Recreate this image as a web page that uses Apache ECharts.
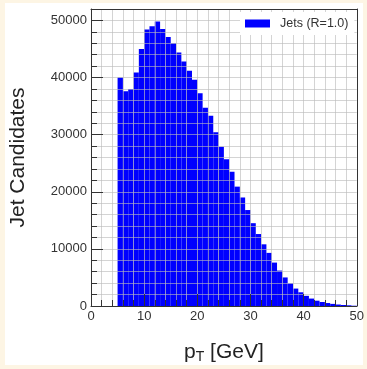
<!DOCTYPE html>
<html>
<head>
<meta charset="utf-8">
<script src="https://cdn.jsdelivr.net/npm/echarts@6/dist/echarts.min.js"></script>
<style>
html,body{margin:0;padding:0;background:#fdf5e4;}
#c{width:367px;height:369px;}
</style>
</head>
<body>
<div id="c"></div>
<script>
// Histogram bins (pT lower edges, GeV) and counts
const binLow = [5,6,7,8,9,10,11,12,13,14,15,16,17,18,19,20,21,22,23,24,25,26,27,28,29,30,31,32,33,34,35,36,37,38,39,40,41,42,43,44,45,46,47,48,49];
const binWidth = 1;
const counts = [40000,37600,38000,40900,45000,48400,49000,49800,48500,47100,46000,44400,42800,41200,39600,37250,34700,33300,30400,27900,25700,23500,20900,19000,16800,14500,12600,10800,9300,7600,6200,5000,3970,3050,2400,1780,1300,930,700,520,370,260,180,120,50];
const xTickLabels = [0, 10, 20, 30, 40, 50];
const yTickLabels = [0, 10000, 20000, 30000, 40000, 50000];
const seriesName = 'Jets (R=1.0)';
const yTitle = 'Jet Candidates';

const data = binLow.map((lo, i) => [lo, lo + binWidth, counts[i]]);

const chart = echarts.init(document.getElementById('c'), null, {renderer: 'canvas'});
const gridLine = {show: true, lineStyle: {color: 'rgba(185,185,185,0.62)', width: 1}};
const fontFam = '"Liberation Sans", Arial, sans-serif';
const AX = '#333';

const X = {min: 0, max: 50, major: 10, minor: 2};
const Y = {min: 0, max: 52000, major: 10000, minor: 2000};

// tick-only axes, shifted inward so their outward ticks sit inside the frame
function tickAxis(r, pos, interval, len) {
  return {
    type: 'value', min: r.min, max: r.max, interval: interval, position: pos, offset: -len, z: 6,
    axisLine: {show: false},
    axisTick: {show: true, length: len, lineStyle: {color: AX}},
    axisLabel: {show: false}, splitLine: {show: false}
  };
}
function borderAxis(r, pos) {
  return {
    type: 'value', min: r.min, max: r.max, interval: r.major, position: pos, z: 6,
    axisLine: {show: true, onZero: false, lineStyle: {color: AX}},
    axisTick: {show: false}, axisLabel: {show: false}, splitLine: {show: false}
  };
}

chart.setOption({
  backgroundColor: '#fdf5e4',
  animation: false,
  graphic: [{type: 'rect', shape: {x: 5, y: 3, width: 358, height: 362}, style: {fill: '#ffffff'}, z: -10}],
  grid: {left: 90.7, right: 6.8, top: 9, bottom: 63, containLabel: false},
  legend: {
    data: [seriesName], left: 240, top: 12, padding: [5, 6, 5, 5], z: 20,
    backgroundColor: '#ffffff', itemWidth: 25, itemHeight: 8, icon: 'rect',
    textStyle: {fontFamily: fontFam, fontSize: 12.5, color: '#333', padding: [0, 0, 0, 5]}
  },
  xAxis: [{
    type: 'value', min: X.min, max: X.max, interval: X.minor, z: 5, position: 'bottom',
    axisLine: {show: true, onZero: false, lineStyle: {color: AX}},
    axisTick: {show: false},
    splitLine: gridLine,
    axisLabel: {fontFamily: fontFam, fontSize: 13, color: '#333', margin: 4,
      formatter: v => (xTickLabels.indexOf(v) >= 0 ? String(v) : '')},
    name: '{p|p}{s|T}{n| [GeV]}', nameLocation: 'middle', nameGap: 34,
    nameTextStyle: {
      rich: {
        p: {fontFamily: fontFam, fontSize: 21, color: '#222', lineHeight: 24},
        s: {fontFamily: fontFam, fontSize: 14, color: '#222', verticalAlign: 'bottom', lineHeight: 14, padding: [6,0,0,0]},
        n: {fontFamily: fontFam, fontSize: 21, color: '#222', lineHeight: 24}
      }
    }
  },
    borderAxis(X, 'top'),
    tickAxis(X, 'bottom', X.major, 6), tickAxis(X, 'bottom', X.minor, 3),
    tickAxis(X, 'top', X.major, 6), tickAxis(X, 'top', X.minor, 3)
  ],
  yAxis: [{
    type: 'value', min: Y.min, max: Y.max, interval: Y.minor, z: 5, position: 'left',
    axisLine: {show: true, onZero: false, lineStyle: {color: AX}},
    axisTick: {show: false},
    splitLine: gridLine,
    axisLabel: {fontFamily: fontFam, fontSize: 13, color: '#333', margin: 4, showMaxLabel: false,
      formatter: v => (yTickLabels.indexOf(v) >= 0 ? String(v) : '')},
    name: yTitle, nameLocation: 'middle', nameGap: 62, nameRotate: 90,
    nameTextStyle: {fontFamily: fontFam, fontSize: 21, color: '#222'}
  },
    borderAxis(Y, 'right'),
    tickAxis(Y, 'left', Y.major, 6), tickAxis(Y, 'left', Y.minor, 3),
    tickAxis(Y, 'right', Y.major, 6), tickAxis(Y, 'right', Y.minor, 3)
  ],
  series: [{
    name: seriesName, type: 'custom', xAxisIndex: 0, yAxisIndex: 0,
    itemStyle: {color: '#0000ff'},
    encode: {x: [0, 1], y: 2},
    data: data,
    renderItem: function (params, api) {
      const p0 = api.coord([api.value(0), api.value(2)]);
      const p1 = api.coord([api.value(1), 0]);
      return {
        type: 'rect',
        shape: {x: p0[0], y: p0[1], width: p1[0] - p0[0], height: p1[1] - p0[1]},
        style: {fill: '#0000ff'}
      };
    }
  }]
});
</script>
</body>
</html>
